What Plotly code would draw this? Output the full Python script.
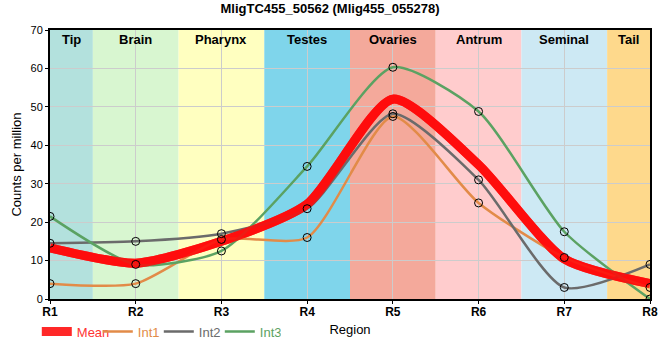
import plotly.graph_objects as go

regions = ["R1", "R2", "R3", "R4", "R5", "R6", "R7", "R8"]
int1 = [4, 4, 15.5, 16, 47.5, 25, 10.8, 3]
int2 = [14.5, 15, 17, 23.5, 48.2, 31, 3, 9]
int3 = [21.5, 9, 12.5, 34.5, 60.3, 48.8, 17.5, 0]
mean = [round((a + b + c) / 3, 2) for a, b, c in zip(int1, int2, int3)]

tissues = ["Tip", "Brain", "Pharynx", "Testes", "Ovaries", "Antrum", "Seminal", "Tail"]
tissue_colors = ["#b3e1dd", "#d8f6d0", "#ffffc0", "#7fd5eb", "#f4a99b",
                 "#ffcccd", "#cde9f4", "#fed98c"]

x = list(range(1, len(regions) + 1))

fig = go.Figure()

for i, (name, col) in enumerate(zip(tissues, tissue_colors)):
    x0 = max(x[0], x[i] - 0.5)
    x1 = min(x[-1], x[i] + 0.5)
    fig.add_shape(type="rect", xref="x", yref="paper", x0=x0, x1=x1, y0=0, y1=1,
                  fillcolor=col, line_width=0, layer="below")
    fig.add_annotation(x=(x0 + x1) / 2, y=1, xref="x", yref="paper", yanchor="top",
                       yshift=0, text="<b>%s</b>" % name, showarrow=False,
                       font=dict(size=13, color="black"))

series = [("Int1", int1, "#e28b48"), ("Int2", int2, "#6b6b6b"), ("Int3", int3, "#5ba262")]
SM = 0.65

def cname(n, c):
    return "<span style='color:%s'>%s</span>" % (c, n)

mean_col = "rgba(255,10,10,0.88)"
fig.add_trace(go.Scatter(x=x, y=mean, mode="lines", name=cname("Mean", "#ff3333"),
                         line=dict(color=mean_col, width=9, shape="spline", smoothing=SM)))
for n, v, c in series:
    fig.add_trace(go.Scatter(x=x, y=v, mode="lines", name=cname(n, c),
                             line=dict(color=c, width=2.5, shape="spline", smoothing=SM)))
fig.add_trace(go.Scatter(x=x, y=mean, mode="lines", showlegend=False, hoverinfo="skip",
                         line=dict(color=mean_col, width=9, shape="spline", smoothing=SM)))
for n, v, c in series:
    fig.add_trace(go.Scatter(x=x, y=v, mode="markers", showlegend=False,
                             marker=dict(size=8, color="rgba(0,0,0,0)",
                                         line=dict(color="black", width=1))))

fig.update_layout(
    width=660, height=360,
    margin=dict(l=50, r=10, t=30, b=61, autoexpand=False),
    paper_bgcolor="white", plot_bgcolor="white",
    font=dict(family="Liberation Sans, Arial, sans-serif", size=12, color="black"),
    title=dict(text="<b>MligTC455_50562 (Mlig455_055278)</b>", x=0.5, xanchor="center",
               y=0.99, yanchor="top", font=dict(size=13)),
    legend=dict(orientation="h", x=-0.022, xanchor="left", y=-0.065, yanchor="top",
                font=dict(size=13), itemwidth=30, tracegroupgap=0,
                entrywidth=16, entrywidthmode="pixels",
                bgcolor="rgba(0,0,0,0)"),
    showlegend=True,
)
fig.update_xaxes(range=[1, 8], tickvals=x, ticktext=["<b>%s</b>" % r for r in regions],
                 automargin=False,
                 showgrid=True, gridcolor="#cccccc", gridwidth=1,
                 showline=True, linecolor="black", linewidth=2, mirror=True,
                 ticks="outside", ticklen=3, tickcolor="black", ticklabelstandoff=-2,
                 tickfont=dict(size=12), zeroline=False,
                 title=dict(text="Region", font=dict(size=13), standoff=6))
fig.update_yaxes(range=[0, 70], dtick=10, automargin=False,
                 showgrid=True, gridcolor="#cccccc", gridwidth=1,
                 showline=True, linecolor="black", linewidth=2, mirror=True,
                 ticks="outside", ticklen=3, tickcolor="black",
                 tickfont=dict(size=11), zeroline=False,
                 title=dict(text="Counts per million", font=dict(size=13), standoff=6))

fig.write_html("out.html", config={"displayModeBar": False},
               post_script="document.body.style.margin='0px';")
